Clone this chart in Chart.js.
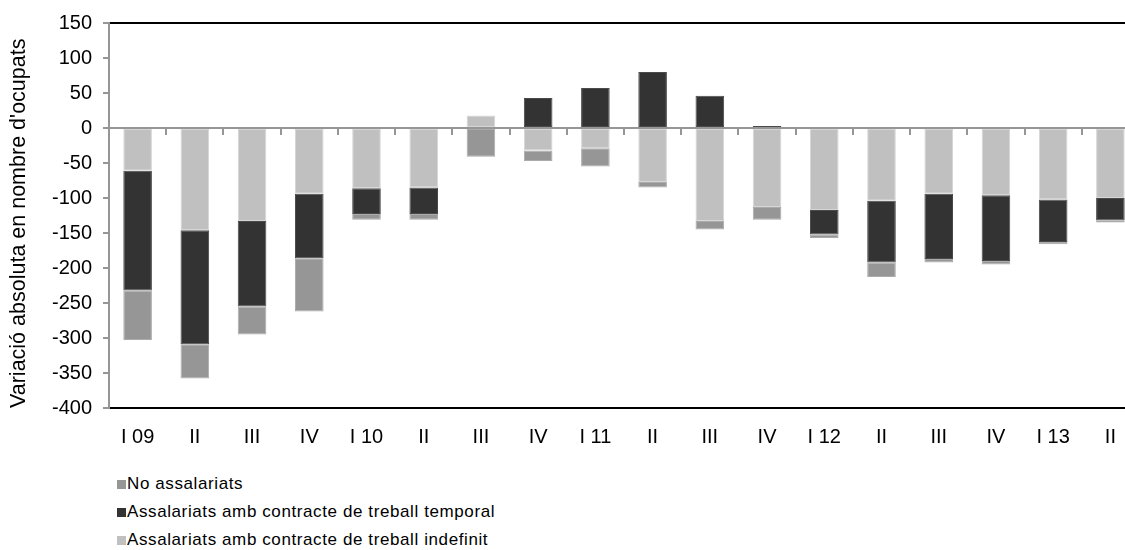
<!DOCTYPE html>
<html lang="ca">
<head>
<meta charset="utf-8">
<title>Variació absoluta en nombre d'ocupats</title>
<script src="https://cdn.jsdelivr.net/npm/chart.js@4.4.1/dist/chart.umd.min.js"></script>
<style>
  html, body { margin: 0; padding: 0; background: #fff; overflow: hidden; }
  #wrap { position: relative; width: 1125px; height: 550px; overflow: hidden; }
  #chart { position: absolute; left: 0; top: 0; }
  #legend { position: absolute; left: 117px; top: 470px; margin: 0; padding: 0; list-style: none;
            font-family: "Liberation Sans", Arial, sans-serif; font-size: 17px; letter-spacing: 0.6px; color: #000; }
  #legend li { display: flex; align-items: center; height: 28px; white-space: nowrap; }
  #legend .box { display: inline-block; width: 9px; height: 9px; margin-right: 1px; }
</style>
</head>
<body>
<div id="wrap">
  <canvas id="chart" width="1145" height="460"></canvas>
  <ul id="legend"></ul>
</div>
<script>
// Quarters, 2009 to 2013
const categories = ['I 09', 'II', 'III', 'IV', 'I 10', 'II', 'III', 'IV', 'I 11', 'II', 'III', 'IV',
                    'I 12', 'II', 'III', 'IV', 'I 13', 'II'];

// Absolute change in employed people, by type of employment
const indefinit     = [-61, -146, -133, -94, -86, -85, 18, -32, -29, -77, -133, -113, -117, -104, -94, -96, -102, -100];
const temporal      = [-171, -163, -122, -92, -37, -38, 0, 43, 57, 80, 46, 3, -35, -88, -93, -94, -61, -32];
const noAssalariats = [-71, -49, -40, -76, -8, -8, -41, -15, -26, -8, -12, -18, -5, -21, -5, -5, -3, -3];

const yTicks = { min: -400, max: 150, step: 50 };

const labelFont = { family: "'Liberation Sans', Arial, sans-serif", size: 20 };
const titleFont = { family: "'Liberation Sans', Arial, sans-serif", size: 21.5 };
const axisGray = '#969696';

const chart = new Chart(document.getElementById('chart'), {
  type: 'bar',
  data: {
    labels: categories,
    datasets: [
      { label: 'Assalariats amb contracte de treball indefinit', data: indefinit,
        backgroundColor: '#c0c0c0', borderColor: '#d6d6d6' },
      { label: 'Assalariats amb contracte de treball temporal', data: temporal,
        backgroundColor: '#333333', borderColor: '#4a4a4a' },
      { label: 'No assalariats', data: noAssalariats,
        backgroundColor: '#969696', borderColor: '#ababab' }
    ]
  },
  options: {
    responsive: false,
    animation: false,
    layout: { padding: { left: 0, right: 6, top: 22, bottom: 0 } },
    datasets: {
      bar: { categoryPercentage: 1, barPercentage: 0.5, borderWidth: 1, borderSkipped: false }
    },
    plugins: {
      legend: { display: false },
      tooltip: { enabled: false }
    },
    scales: {
      x: {
        stacked: true,
        grid: { display: false, drawTicks: false },
        border: { display: false },
        ticks: { color: '#000', font: labelFont, padding: 17, maxRotation: 0, autoSkip: false },
        afterFit: s => { s.height = 52; }
      },
      // horizontal axis line crossing at zero, with tick marks between quarters
      x0: {
        type: 'category',
        position: { y: 0 },
        offset: true,
        ticks: { display: false },
        grid: { drawOnChartArea: false, drawTicks: true, tickLength: 6, color: axisGray,
                lineWidth: 2, offset: true, z: 1 },
        border: { color: axisGray, width: 2, z: 1 }
      },
      y: {
        stacked: true,
        min: yTicks.min,
        max: yTicks.max,
        ticks: { stepSize: yTicks.step, color: '#000', font: labelFont, padding: 11 },
        grid: {
          color: c => (c.tick && (c.tick.value === yTicks.max || c.tick.value === yTicks.min)) ? '#000' : 'rgba(0,0,0,0)',
          lineWidth: 2,
          tickColor: axisGray,
          tickLength: 6,
          drawTicks: true
        },
        border: { color: axisGray, width: 2 },
        title: {
          display: true,
          text: "Variació absoluta en nombre d'ocupats",
          color: '#000',
          font: titleFont,
          align: 'start',
          padding: { top: 6, bottom: 0 }
        },
        afterFit: s => { s.width = 109; }
      }
    }
  }
});

// Legend listed from top to bottom in reverse stacking order
const legendEl = document.getElementById('legend');
const items = chart.options.plugins.legend.labels.generateLabels(chart).reverse();
items.forEach(item => {
  const li = document.createElement('li');
  const box = document.createElement('span');
  box.className = 'box';
  box.style.background = item.fillStyle;
  li.appendChild(box);
  li.appendChild(document.createTextNode(item.text));
  legendEl.appendChild(li);
});
</script>
</body>
</html>
